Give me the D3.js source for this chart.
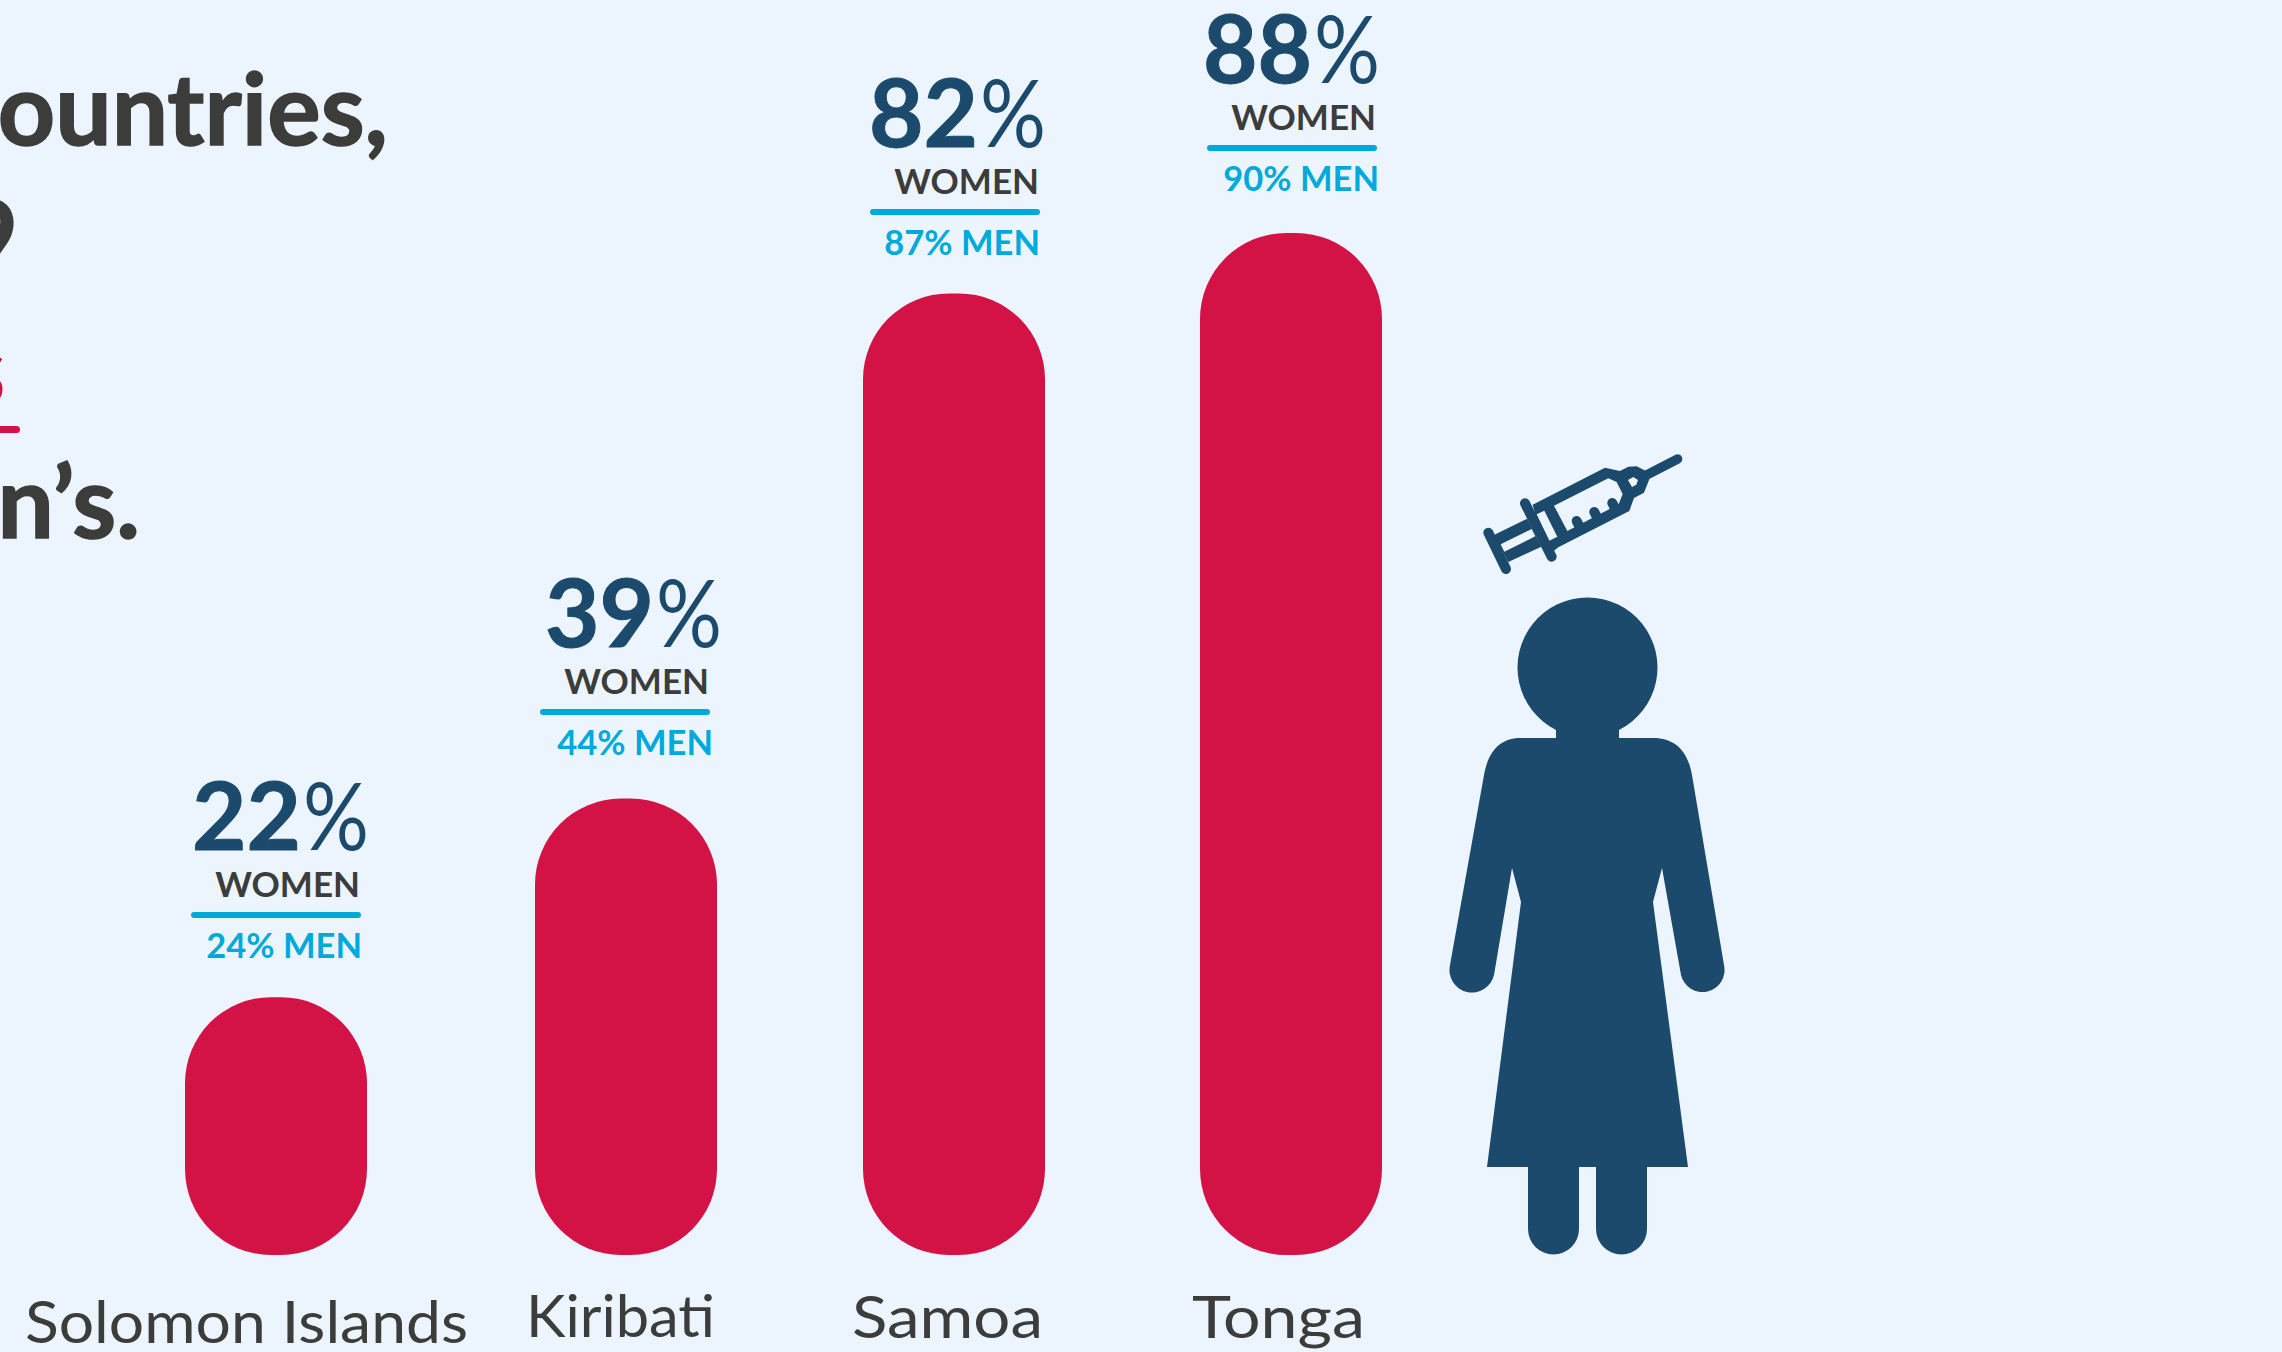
<!DOCTYPE html>
<html>
<head>
<meta charset="utf-8">
<script src="https://cdnjs.cloudflare.com/ajax/libs/d3/7.8.5/d3.min.js"></script>
<style>
  html, body { margin: 0; padding: 0; background: #ecf5fd; overflow: hidden; }
  svg { display: block; font-family: Lato, sans-serif; }
</style>
</head>
<body>
<svg id="chart" width="2282" height="1352"></svg>
<script>
const countries = ["Solomon Islands", "Kiribati", "Samoa", "Tonga"];
const womenLabels = [22, 39, 82, 88];
const menLabels = [24, 44, 87, 90];
// bar lengths as measured, they sit a little off the printed labels
const barLengths = [22.2, 39.3, 82.8, 88];
const titleLines = ["countries,", "2019", "s", "men\u2019s."];

const red = "#d31345", navy = "#1b4a6d", grey = "#3c3c3b", cyan = "#00a9dc", bg = "#ecf5fd";

const svg = d3.select("#chart");

// bars are not evenly spaced in the original
const x = d3.scaleOrdinal().domain(countries).range([185, 535, 863, 1200]);
const y = d3.scaleLinear().domain([0, 88]).range([1255, 233]);
const barWidth = 182;

// the label blocks were nudged by hand in the original too
const blockRight = d3.scaleOrdinal().domain(countries).range([361, 710, 1040, 1377]);
const blockBase = d3.scaleOrdinal().domain(countries).range([897, 694, 194, 130]);
const pctNudge = [5, 9, 3, 0], menNudge = [1, 3, 0, 2];

const titleY = [145, 272, 405, 538];
const titleX = [388, 18, 5, 140];
svg.selectAll(".title").data(titleLines).join("text")
  .attr("class", "title")
  .attr("x", (d, i) => titleX[i])
  .attr("y", (d, i) => titleY[i])
  .attr("text-anchor", "end")
  .attr("font-size", 100)
  .attr("font-weight", 700)
  .attr("fill", (d, i) => i == 2 ? red : grey)
  .attr("stroke", (d, i) => i == 2 ? red : grey)
  .attr("stroke-width", 1.5)
  .text(d => d);
svg.append("rect").attr("x", -10).attr("y", 426).attr("width", 30).attr("height", 7).attr("rx", 3.5).attr("fill", red);

const groups = svg.selectAll(".country").data(countries).join("g").attr("class", "country");

groups.append("rect")
  .attr("x", d => x(d))
  .attr("y", (d, i) => y(barLengths[i]))
  .attr("width", barWidth)
  .attr("height", (d, i) => y(0) - y(barLengths[i]))
  .attr("rx", 86)
  .attr("fill", red);

// digits and % are separate so the % can be fitted like the original
groups.append("text")
  .attr("x", (d, i) => blockRight(d) + pctNudge[i] - 65)
  .attr("y", d => blockBase(d) - 47)
  .attr("text-anchor", "end")
  .attr("font-size", 94)
  .attr("font-weight", 700)
  .attr("stroke", navy)
  .attr("stroke-width", 1)
  .attr("fill", navy)
  .text((d, i) => womenLabels[i]);

groups.append("text")
  .attr("x", (d, i) => blockRight(d) + pctNudge[i] - 63)
  .attr("y", d => blockBase(d) - 47)
  .attr("font-size", 94)
  .attr("font-weight", 400)
  .attr("textLength", 66)
  .attr("lengthAdjust", "spacingAndGlyphs")
  .attr("fill", navy)
  .text("%");

groups.append("text")
  .attr("x", d => blockRight(d) - 1)
  .attr("y", d => blockBase(d))
  .attr("text-anchor", "end")
  .attr("font-size", 35)
  .attr("font-weight", 700)
  .attr("fill", grey)
  .text("WOMEN");

groups.append("rect")
  .attr("x", d => blockRight(d) - 170)
  .attr("y", d => blockBase(d) + 15)
  .attr("width", 170)
  .attr("height", 6)
  .attr("rx", 3)
  .attr("fill", cyan);

groups.append("text")
  .attr("x", (d, i) => blockRight(d) + menNudge[i])
  .attr("y", d => blockBase(d) + 61)
  .attr("text-anchor", "end")
  .attr("font-size", 34.5)
  .attr("font-weight", 700)
  .attr("fill", cyan)
  .text((d, i) => menLabels[i] + "% MEN");

// country names, stretched to the width of the wider original face
groups.append("text")
  .attr("x", (d, i) => [25, 526, 852, 1192][i])
  .attr("y", (d, i) => [1343, 1337, 1338, 1338][i])
  .attr("font-size", 58)
  .attr("font-weight", 400)
  .attr("textLength", (d, i) => [443, 189, 191, 173][i])
  .attr("lengthAdjust", "spacingAndGlyphs")
  .attr("fill", grey)
  .text(d => d);

// woman figure
svg.append("path")
  .attr("fill", navy)
  .attr("d", "M1556 730 A70 70 0 1 1 1619 730 L1619 738 L1653 738 C1676 738 1688 752 1692 775 L1724 965 A22 22 0 0 1 1681 975 L1662 868 L1653 902 L1688 1167 L1647 1167 L1647 1229 A25.5 25.5 0 0 1 1596 1229 L1596 1167 L1579 1167 L1579 1229 A25.5 25.5 0 0 1 1528 1229 L1528 1167 L1487 1167 L1521 902 L1512 868 L1494 975 A22 22 0 0 1 1450 965 L1484 775 C1488 752 1500 738 1520 738 L1556 738 Z");

// syringe, drawn in a 3x space
const syringe = svg.append("g").attr("transform", "translate(1420,420) scale(0.3333)");
const strokeLine = (a, b, c, e, w) => syringe.append("line")
  .attr("x1", a).attr("y1", b).attr("x2", c).attr("y2", e)
  .attr("stroke", navy).attr("stroke-width", w).attr("stroke-linecap", "round");
strokeLine(205, 338, 258, 447, 30);
strokeLine(315, 250, 395, 410, 30);
strokeLine(680, 165, 773, 117, 28);
syringe.append("path").attr("fill", navy).attr("fill-rule", "evenodd")
  .attr("d", "M222 345 L322 296 L364 380 L265 426 Z M242 373 L335 327 L346 349 L253 395 Z");
syringe.append("path").attr("fill", navy).attr("fill-rule", "evenodd")
  .attr("d", "M338 254 L555 143 L600 153 L625 140 L650 139 L678 153 L688 178 L672 218 L642 234 L628 273 L415 382 L400 394 L365 382 L345 280 Z M350 283 L373 272 L412 350 L388 362 Z M402 257 L565 175 L590 186 L608 222 L596 253 L442 333 Z M624 180 L640 171 L654 180 L649 194 L636 201 Z");
strokeLine(470, 303, 480, 322, 30);
strokeLine(523, 276, 533, 295, 30);
strokeLine(577, 249, 587, 268, 30);
</script>
</body>
</html>
